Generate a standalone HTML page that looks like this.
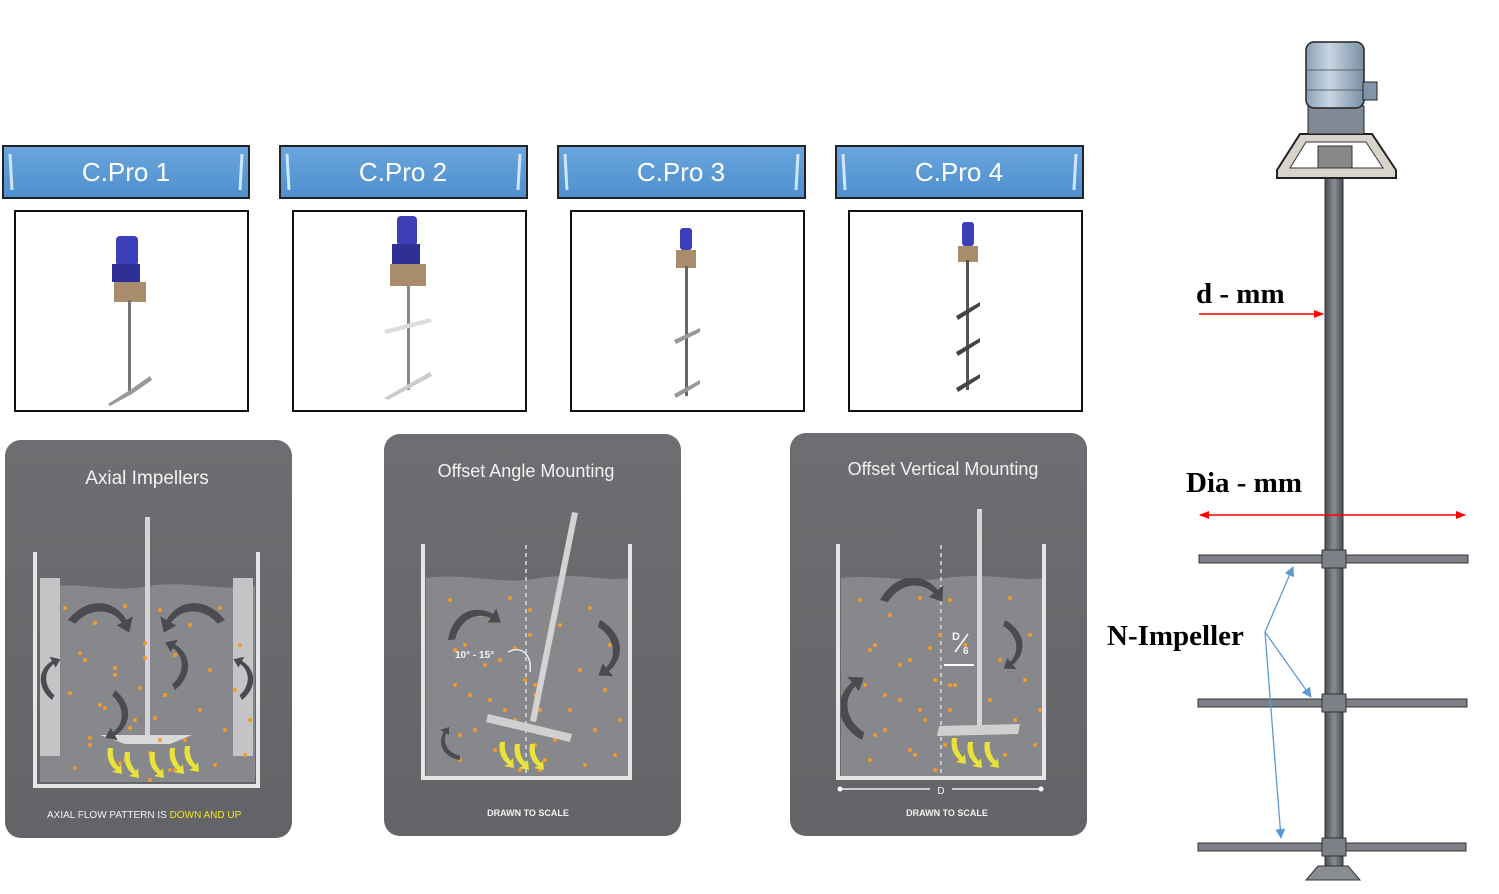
<!DOCTYPE html>
<html><head><meta charset="utf-8"><style>
html,body{margin:0;padding:0;background:#fff;}
svg{display:block;}
.btn{font-family:"Liberation Sans",sans-serif;font-size:26px;fill:#fff;}
.pt{font-family:"Liberation Sans",sans-serif;fill:#f2f2f2;}
.lbl{font-family:"Liberation Serif",serif;font-weight:bold;font-size:29px;fill:#000;}
</style></head><body>
<svg width="1499" height="894" viewBox="0 0 1499 894" xmlns="http://www.w3.org/2000/svg">
<defs>
<linearGradient id="bg" x1="0" y1="0" x2="0" y2="1"><stop offset="0" stop-color="#6aa6dd"/><stop offset="1" stop-color="#4f8fcf"/></linearGradient>
<linearGradient id="pan" x1="0" y1="0" x2="0" y2="1"><stop offset="0" stop-color="#6d6e71"/><stop offset="1" stop-color="#636467"/></linearGradient>
<linearGradient id="shaft" x1="0" y1="0" x2="1" y2="0"><stop offset="0" stop-color="#4a4d52"/><stop offset=".5" stop-color="#8a8e94"/><stop offset="1" stop-color="#4a4d52"/></linearGradient>
<linearGradient id="mot" x1="0" y1="0" x2="1" y2="0"><stop offset="0" stop-color="#8aa0b4"/><stop offset=".4" stop-color="#c8d6e2"/><stop offset="1" stop-color="#7890a4"/></linearGradient>
<clipPath id="c1"><rect x="40" y="588" width="215" height="194"/></clipPath>
<clipPath id="c2"><rect x="426" y="578" width="202" height="198"/></clipPath>
<clipPath id="c3"><rect x="841" y="578" width="201" height="198"/></clipPath>
<marker id="ar" markerWidth="10" markerHeight="8" refX="9" refY="4" orient="auto" markerUnits="userSpaceOnUse"><path d="M0,0 L10,4 L0,8z" fill="#ff0000"/></marker>
<marker id="al" markerWidth="10" markerHeight="8" refX="1" refY="4" orient="auto" markerUnits="userSpaceOnUse"><path d="M10,0 L0,4 L10,8z" fill="#ff0000"/></marker>
<marker id="ab" markerWidth="10" markerHeight="10" refX="9" refY="5" orient="auto" markerUnits="userSpaceOnUse"><path d="M0,0 L10,5 L0,10z" fill="#5b9bd5"/></marker>
<g id="dots" fill="#f39a2a">
<circle cx="10" cy="10" r="2"/><circle cx="40" cy="25" r="2"/><circle cx="70" cy="8" r="2"/><circle cx="25" cy="55" r="2"/><circle cx="60" cy="70" r="2"/><circle cx="90" cy="45" r="2"/><circle cx="15" cy="95" r="2"/><circle cx="50" cy="110" r="2"/><circle cx="85" cy="90" r="2"/><circle cx="35" cy="140" r="2"/><circle cx="75" cy="130" r="2"/><circle cx="100" cy="120" r="2"/><circle cx="20" cy="170" r="2"/><circle cx="65" cy="165" r="2"/><circle cx="95" cy="155" r="2"/>
</g>
<g id="arr" fill="#4a4b4e"><path d="M0,0 C20,-25 50,-25 65,0 L72,-4 L68,14 L54,6 L60,3 C48,-14 24,-14 8,4z"/></g>
<g id="yel" fill="#e8e23a"><path d="M0,0 C-2,10 2,18 8,22 L4,24 L14,26 L13,16 L11,19 C6,14 4,8 5,0z"/></g>
</defs>

<!-- Buttons -->
<g>
<rect x="3" y="146" width="246" height="52" fill="url(#bg)" stroke="#222" stroke-width="2"/>
<rect x="280" y="146" width="247" height="52" fill="url(#bg)" stroke="#222" stroke-width="2"/>
<rect x="558" y="146" width="247" height="52" fill="url(#bg)" stroke="#222" stroke-width="2"/>
<rect x="836" y="146" width="247" height="52" fill="url(#bg)" stroke="#222" stroke-width="2"/>
<g stroke="#cfe6fb" stroke-width="3" fill="none">
<path d="M10,154 L12,190"/><path d="M242,154 L240,190"/>
<path d="M287,154 L289,190"/><path d="M520,154 L518,190"/>
<path d="M565,154 L567,190"/><path d="M798,154 L796,190"/>
<path d="M843,154 L845,190"/><path d="M1076,154 L1074,190"/>
</g>
<text class="btn" x="126" y="181" text-anchor="middle">C.Pro 1</text>
<text class="btn" x="403" y="181" text-anchor="middle">C.Pro 2</text>
<text class="btn" x="681" y="181" text-anchor="middle">C.Pro 3</text>
<text class="btn" x="959" y="181" text-anchor="middle">C.Pro 4</text>
</g>

<!-- Image boxes -->
<g fill="#fff" stroke="#111" stroke-width="2">
<rect x="15" y="211" width="233" height="200"/>
<rect x="293" y="211" width="233" height="200"/>
<rect x="571" y="211" width="233" height="200"/>
<rect x="849" y="211" width="233" height="200"/>
</g>
<g>
<rect x="116" y="236" width="22" height="30" rx="4" fill="#3d3fb8"/><rect x="112" y="264" width="28" height="18" fill="#2e3096"/>
<rect x="114" y="282" width="32" height="20" fill="#a88c6c"/><rect x="128" y="300" width="3" height="92" fill="#777"/>
<path d="M108,404 L130,390 L150,376 L152,380 L132,394 L110,406z" fill="#999"/>
<rect x="397" y="216" width="20" height="30" rx="4" fill="#3d3fb8"/><rect x="392" y="244" width="28" height="20" fill="#2e3096"/>
<rect x="390" y="264" width="36" height="22" fill="#a88c6c"/><rect x="407" y="286" width="3" height="104" fill="#888"/>
<path d="M384,330 L430,318 L432,322 L386,334z" fill="#ddd"/><path d="M384,398 L430,372 L432,376 L388,400z" fill="#ccc"/>
<rect x="680" y="228" width="12" height="22" rx="3" fill="#3d3fb8"/><rect x="676" y="250" width="20" height="18" fill="#a88c6c"/>
<rect x="685" y="266" width="3" height="130" fill="#666"/>
<path d="M674,340 L700,328 L700,332 L676,344z" fill="#999"/><path d="M674,394 L700,380 L700,384 L676,398z" fill="#999"/>
<rect x="962" y="222" width="12" height="24" rx="3" fill="#3d3fb8"/><rect x="958" y="246" width="20" height="16" fill="#a88c6c"/>
<rect x="966" y="260" width="3" height="130" fill="#555"/>
<path d="M956,316 L980,302 L980,306 L958,320z" fill="#444"/><path d="M956,352 L980,338 L980,342 L958,356z" fill="#444"/><path d="M956,388 L980,374 L980,378 L958,392z" fill="#444"/>
</g>

<!-- Panel 1 -->
<rect x="5" y="440" width="287" height="398" rx="16" fill="url(#pan)"/>
<text class="pt" x="147" y="484" font-size="19" text-anchor="middle">Axial Impellers</text>
<path d="M40,588 C80,580 110,594 148,586 C190,580 220,592 255,586 L255,782 L40,782z" fill="#87888b"/>
<g fill="none" stroke="#e6e6e6" stroke-width="4"><path d="M35,552 L35,786 L258,786 L258,552"/></g>
<rect x="40" y="578" width="20" height="178" fill="#c4c4c6"/><rect x="233" y="578" width="20" height="178" fill="#c4c4c6"/>
<rect x="145" y="517" width="5" height="222" fill="#d5d5d5"/>
<path d="M100,735 L192,735 L170,744 L125,744z" fill="#d9d9d9"/>
<g clip-path="url(#c1)">
<use href="#dots" x="55" y="598"/><use href="#dots" x="150" y="600"/><use href="#dots" x="75" y="650"/>
<g transform="translate(68,620) scale(.9)"><use href="#arr"/></g>
<g transform="translate(225,620) scale(-.9,.9)"><use href="#arr"/></g>
<g transform="translate(115,690) rotate(90) scale(.7)"><use href="#arr"/></g>
<g transform="translate(175,690) rotate(90) scale(-.7,.7)"><use href="#arr"/></g>
<g transform="translate(52,700) rotate(-90) scale(.6)"><use href="#arr"/></g>
<g transform="translate(242,700) rotate(-90) scale(.6,-.6)"><use href="#arr"/></g>
</g>
<use href="#yel" x="108" y="748"/><use href="#yel" x="125" y="752"/><use href="#yel" x="150" y="752"/><use href="#yel" x="170" y="748"/><use href="#yel" x="185" y="746"/>
<text class="pt" x="47" y="818" font-size="10">AXIAL FLOW PATTERN IS <tspan fill="#f3e51a">DOWN AND UP</tspan></text>

<!-- Panel 2 -->
<rect x="384" y="434" width="297" height="402" rx="16" fill="url(#pan)"/>
<text class="pt" x="526" y="477" font-size="18" text-anchor="middle">Offset Angle Mounting</text>
<path d="M426,578 C470,572 500,586 540,578 C580,572 605,582 628,578 L628,776 L426,776z" fill="#87888b"/>
<g fill="none" stroke="#e6e6e6" stroke-width="4"><path d="M423,544 L423,778 L630,778 L630,544"/></g>
<line x1="526" y1="545" x2="526" y2="776" stroke="#ddd" stroke-width="1.5" stroke-dasharray="4,4"/>
<g clip-path="url(#c2)">
<use href="#dots" x="440" y="590"/><use href="#dots" x="520" y="600"/><use href="#dots" x="445" y="640"/>
<g transform="translate(448,640) rotate(-30) scale(.8)"><use href="#arr"/></g>
<g transform="translate(600,620) rotate(80) scale(.8)"><use href="#arr"/></g>
<g transform="translate(460,760) rotate(-120) scale(.5)"><use href="#arr"/></g>
</g>
<path d="M572,512 L578,513 L536,722 L530,721z" fill="#d3d3d3"/>
<path d="M488,714 L572,734 L570,742 L486,722z" fill="#d0d0d0"/>
<text class="pt" x="455" y="658" font-size="10" font-weight="bold">10° - 15°</text>
<path d="M508,652 C522,645 532,655 530,672" fill="none" stroke="#eee" stroke-width="1.5"/>
<use href="#yel" x="500" y="742"/><use href="#yel" x="515" y="744"/><use href="#yel" x="530" y="744"/>
<text class="pt" x="528" y="816" font-size="9" font-weight="bold" text-anchor="middle">DRAWN TO SCALE</text>

<!-- Panel 3 -->
<rect x="790" y="433" width="297" height="403" rx="16" fill="url(#pan)"/>
<text class="pt" x="943" y="475" font-size="18" text-anchor="middle">Offset Vertical Mounting</text>
<path d="M841,578 C880,574 915,584 945,578 C990,572 1020,582 1042,578 L1042,776 L841,776z" fill="#87888b"/>
<g fill="none" stroke="#e6e6e6" stroke-width="4"><path d="M838,544 L838,778 L1044,778 L1044,544"/></g>
<line x1="941" y1="545" x2="941" y2="776" stroke="#ddd" stroke-width="1.5" stroke-dasharray="4,4"/>
<g clip-path="url(#c3)">
<use href="#dots" x="850" y="590"/><use href="#dots" x="940" y="590"/><use href="#dots" x="860" y="640"/>
<g transform="translate(880,600) rotate(-10) scale(.9)"><use href="#arr"/></g>
<g transform="translate(1005,620) rotate(80) scale(.7)"><use href="#arr"/></g>
<g transform="translate(862,740) rotate(-100) scale(.9)"><use href="#arr"/></g>
</g>
<rect x="977" y="509" width="5" height="222" fill="#d5d5d5"/>
<path d="M939,726 L1020,724 L1018,734 L937,736z" fill="#d0d0d0"/>
<line x1="944" y1="665" x2="974" y2="665" stroke="#fff" stroke-width="2"/>
<text class="pt" x="952" y="640" font-size="11" font-weight="bold">D</text><text class="pt" x="963" y="654" font-size="10" font-weight="bold">6</text>
<line x1="955" y1="652" x2="968" y2="634" stroke="#fff" stroke-width="1.5"/>
<use href="#yel" x="952" y="738"/><use href="#yel" x="968" y="742"/><use href="#yel" x="985" y="742"/>
<line x1="840" y1="789" x2="930" y2="789" stroke="#eee" stroke-width="1.5"/><line x1="952" y1="789" x2="1041" y2="789" stroke="#eee" stroke-width="1.5"/>
<circle cx="840" cy="789" r="2.5" fill="#fff"/><circle cx="1041" cy="789" r="2.5" fill="#fff"/>
<text class="pt" x="941" y="794" font-size="10" text-anchor="middle">D</text>
<text class="pt" x="947" y="816" font-size="9" font-weight="bold" text-anchor="middle">DRAWN TO SCALE</text>

<!-- Right agitator -->
<rect x="1325" y="175" width="18" height="705" fill="url(#shaft)" stroke="#333" stroke-width="1"/>
<path d="M1306,880 L1360,880 L1348,866 L1318,866z" fill="#8a8e94" stroke="#333"/>
<g fill="#7d8187" stroke="#333" stroke-width="1">
<rect x="1199" y="555" width="269" height="8"/>
<rect x="1198" y="699" width="269" height="8"/>
<rect x="1198" y="843" width="268" height="8"/>
<rect x="1322" y="550" width="24" height="18"/><rect x="1322" y="694" width="24" height="18"/><rect x="1322" y="838" width="24" height="18"/>
</g>
<path d="M1277,170 L1300,134 L1372,134 L1396,170 L1396,178 L1277,178z" fill="#d8d4cc" stroke="#222" stroke-width="2"/>
<path d="M1290,168 L1306,142 L1366,142 L1383,168z" fill="#fff" stroke="#333"/>
<rect x="1318" y="146" width="34" height="22" fill="#888" stroke="#333"/>
<rect x="1308" y="106" width="56" height="28" fill="#7f8a95" stroke="#222"/>
<rect x="1306" y="42" width="58" height="66" rx="8" fill="url(#mot)" stroke="#222" stroke-width="1.5"/>
<g stroke="#5a6470" stroke-width="1"><line x1="1307" y1="70" x2="1363" y2="70"/><line x1="1307" y1="90" x2="1363" y2="90"/></g>
<rect x="1363" y="82" width="14" height="18" fill="#8096a8" stroke="#222"/>
<text class="lbl" x="1196" y="303">d - mm</text>
<line x1="1199" y1="314" x2="1323" y2="314" stroke="#ff0000" stroke-width="1.5" marker-end="url(#ar)"/>
<text class="lbl" x="1186" y="492">Dia - mm</text>
<line x1="1200" y1="515" x2="1465" y2="515" stroke="#ff0000" stroke-width="1.5" marker-end="url(#ar)" marker-start="url(#al)"/>
<text class="lbl" x="1107" y="645" font-size="27">N-Impeller</text>
<g stroke="#5b9bd5" stroke-width="1.3" fill="none">
<line x1="1265" y1="632" x2="1293" y2="567" marker-end="url(#ab)"/>
<line x1="1265" y1="632" x2="1311" y2="697" marker-end="url(#ab)"/>
<line x1="1265" y1="632" x2="1281" y2="838" marker-end="url(#ab)"/>
</g>
</svg>
</body></html>
